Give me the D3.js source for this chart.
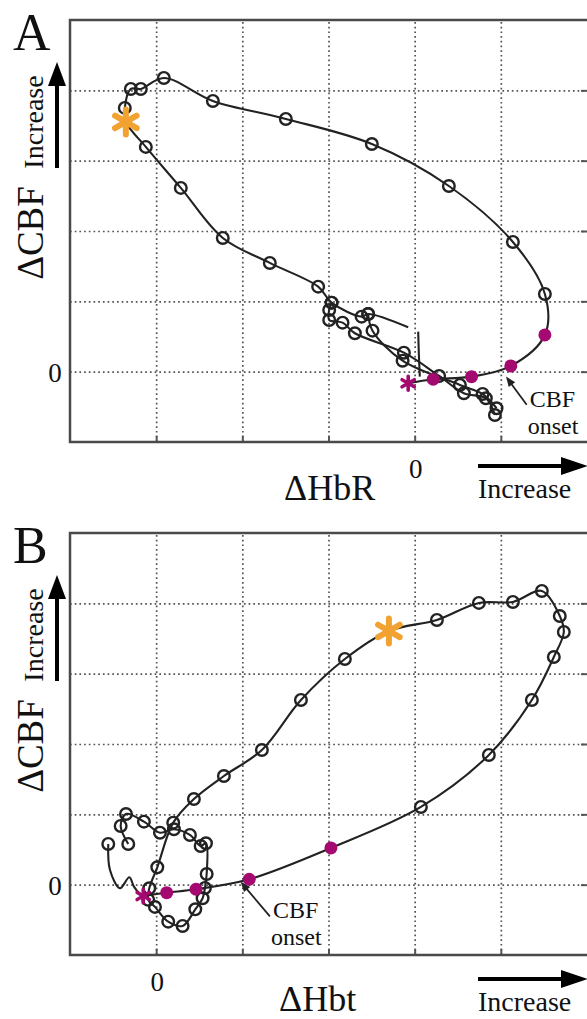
<!DOCTYPE html>
<meta charset="utf-8">
<script src="https://d3js.org/d3.v7.min.js"></script>
<style>
  body { margin: 0; background: #fff; }
  text { font-family: "Liberation Serif", "Times New Roman", serif; fill: #111; }
</style>
<div id="chart"></div>
<script>
// grid positions (data units)
const gridA_x = [-3, -2, -1, 0, 1];
const gridB_x = [0, 1, 2, 3, 4];
const grid_y = [0, 1, 2, 3, 4];

// panel A : dHbR (x) vs dCBF (y)
const aMainX = [-0.075, 0.215, 0.660, 1.116, 1.511, 1.511, 1.140, 0.397, -0.497, -1.495, -2.342, -2.911, -3.178, -3.294, -3.364, -3.352, -3.120, -2.714, -2.227, -1.681, -1.120, -0.964, -0.616, -0.540, -0.075];
const aMainY = [-0.165, -0.108, -0.071, 0.081, 0.522, 1.105, 1.844, 2.640, 3.237, 3.593, 3.849, 4.176, 4.020, 4.020, 3.750, 3.551, 3.196, 2.613, 1.901, 1.546, 1.209, 0.981, 0.782, 0.820, 0.631];
const aMainKind = ["stim", "onset", "onset", "onset", "onset", "o", "o", "o", "o", "o", "o", "o", "o", "o", "o", "peak", "o", "o", "o", "o", "o", "o", "o", "o", "none"];

const aTail1X = [-0.964, -0.992, -0.992, -0.837, -0.694, -0.125, 0.284, 0.571, 0.826, 0.931];
const aTail1Y = [0.981, 0.877, 0.735, 0.697, 0.546, 0.270, -0.061, -0.307, -0.378, -0.616];
const aTail2X = [-0.540, -0.489, -0.140, 0.525, 0.788, 0.950];
const aTail2Y = [0.820, 0.583, 0.156, -0.189, -0.317, -0.520];
const aStrayX = [0.041, 0.049, 0.060];
const aStrayY = [0.569, 0.237, -0.071];

// panel B : dHbt (x) vs dCBF (y)
const bPreX = [-0.556, -0.536, -0.420, -0.312, -0.258, -0.196, -0.150];
const bPreY = [0.579, 0.209, -0.051, 0.105, -0.028, -0.122, -0.161];
const bPreKind = ["o", "none", "none", "none", "none", "none", "none"];

const bMainX = [-0.150, 0.122, 0.462, 1.080, 2.028, 3.072, 3.861, 4.360, 4.615, 4.731, 4.684, 4.476, 4.140, 3.745, 3.258, 2.701, 2.190, 1.680, 1.227, 0.786, 0.438, 0.198, 0.013, -0.080, -0.092, -0.014, 0.140, 0.307, 0.454, 0.539, 0.566, 0.586, 0.578, 0.516, 0.392, 0.206, 0.044, -0.142, -0.350, -0.412, -0.324];
const bMainY = [-0.161, -0.114, -0.065, 0.077, 0.522, 1.105, 1.844, 2.626, 3.237, 3.593, 3.820, 4.176, 4.020, 4.006, 3.764, 3.607, 3.209, 2.626, 1.915, 1.545, 1.218, 0.882, 0.247, -0.051, -0.216, -0.316, -0.526, -0.587, -0.350, -0.193, -0.047, 0.152, 0.589, 0.550, 0.707, 0.788, 0.739, 0.896, 1.005, 0.835, 0.579];
const bMainKind = ["stim", "onset", "onset", "onset", "onset", "o", "o", "o", "o", "o", "o", "o", "o", "o", "o", "peak", "o", "o", "o", "o", "o", "o", "o", "o", "o", "o", "o", "o", "o", "o", "o", "o", "o", "o", "o", "o", "o", "o", "o", "o", "o"];

// CBF onset pointer (data units: head, tail)
const aOnsetArrow = [[1.06, -0.07], [1.30, -0.47]];
const bOnsetArrow = [[0.98, 0.04], [1.32, -0.45]];

const width = 587, height = 1019;
const magenta = "#a3096f", orange = "#f2a230", ink = "#222";

const svg = d3.select("#chart").append("svg")
    .attr("width", width)
    .attr("height", height);

svg.append("rect").attr("width", width).attr("height", height).attr("fill", "#fff");

function zip(xs, ys, ks) {
    return xs.map((d, i) => ({ x: d, y: ys[i], k: ks ? ks[i] : "o" }));
}

function drawPanel(p) {
    const x = d3.scaleLinear().domain(p.xDomain).range([70, 587]);
    const y = d3.scaleLinear().domain([-1, 5]).range([p.bottom, p.top]);
    const g = svg.append("g");
    const plotH = p.bottom - p.top;

    // dotted grid
    g.append("g")
        .attr("transform", `translate(0,${p.bottom})`)
        .call(d3.axisBottom(x).tickValues(p.gridX).tickSize(-plotH).tickFormat(""))
        .call(a => a.select(".domain").remove())
        .selectAll("line")
        .attr("stroke", "#555").attr("stroke-width", 1.7).attr("stroke-dasharray", "1.7,3");

    g.append("g")
        .attr("transform", `translate(70,0)`)
        .call(d3.axisLeft(y).tickValues(grid_y).tickSize(-(587 - 70)).tickFormat(""))
        .call(a => a.select(".domain").remove())
        .selectAll("line")
        .attr("stroke", "#555").attr("stroke-width", 1.7).attr("stroke-dasharray", "1.7,3");

    // small solid ticks
    g.append("g")
        .attr("transform", `translate(0,${p.bottom})`)
        .call(d3.axisBottom(x).tickValues(p.gridX).tickSize(-6).tickFormat(""))
        .call(a => a.select(".domain").remove())
        .selectAll("line").attr("stroke", "#555").attr("stroke-width", 2);

    g.append("g")
        .attr("transform", `translate(587,0)`)
        .call(d3.axisLeft(y).tickValues(grid_y).tickSize(6).tickFormat(""))
        .call(a => a.select(".domain").remove())
        .selectAll("line").attr("stroke", "#555").attr("stroke-width", 2);

    // frame (left, top, bottom)
    g.append("path")
        .attr("d", `M590,${p.top}H70V${p.bottom}H590`)
        .attr("fill", "none").attr("stroke", "#4a4a4a").attr("stroke-width", 2.5);

    const line = d3.line().x(d => x(d.x)).y(d => y(d.y)).curve(d3.curveCatmullRom.alpha(0.5));

    p.traces.forEach(t => {
        g.append("path")
            .datum(t)
            .attr("d", line)
            .attr("fill", "none")
            .attr("stroke", ink)
            .attr("stroke-width", 2.1);
    });

    const pts = p.traces.flat();

    g.selectAll(".circ")
        .data(pts.filter(d => d.k === "o"))
        .enter().append("circle")
        .attr("cx", d => x(d.x)).attr("cy", d => y(d.y))
        .attr("r", 5.8)
        .attr("fill", "none").attr("stroke", ink).attr("stroke-width", 2.4);

    g.selectAll(".onset")
        .data(pts.filter(d => d.k === "onset"))
        .enter().append("circle")
        .attr("cx", d => x(d.x)).attr("cy", d => y(d.y))
        .attr("r", 6.5)
        .attr("fill", magenta);

    g.selectAll(".stim")
        .data(pts.filter(d => d.k === "stim"))
        .enter().append("path")
        .attr("transform", d => `translate(${x(d.x)},${y(d.y)})`)
        .attr("d", d3.symbol().type(d3.symbolAsterisk).size(140))
        .attr("fill", "none").attr("stroke", magenta).attr("stroke-width", 3.6).attr("stroke-linecap", "round");

    g.selectAll(".peak")
        .data(pts.filter(d => d.k === "peak"))
        .enter().append("path")
        .attr("transform", d => `translate(${x(d.x)},${y(d.y)})`)
        .attr("d", d3.symbol().type(d3.symbolAsterisk).size(440))
        .attr("fill", "none").attr("stroke", orange).attr("stroke-width", 6).attr("stroke-linecap", "round");

    // CBF onset pointer
    const h = p.onsetArrow[0], tl = p.onsetArrow[1];
    const hx = x(h[0]), hy = y(h[1]), tx = x(tl[0]), ty = y(tl[1]);
    const ang = Math.atan2(hy - ty, hx - tx);
    g.append("line")
        .attr("x1", tx).attr("y1", ty).attr("x2", hx - 6 * Math.cos(ang)).attr("y2", hy - 6 * Math.sin(ang))
        .attr("stroke", ink).attr("stroke-width", 1.8);
    g.append("path")
        .attr("d", `M${hx},${hy}L${hx - 10 * Math.cos(ang) + 4 * Math.sin(ang)},${hy - 10 * Math.sin(ang) - 4 * Math.cos(ang)}L${hx - 10 * Math.cos(ang) - 4 * Math.sin(ang)},${hy - 10 * Math.sin(ang) + 4 * Math.cos(ang)}Z`)
        .attr("fill", ink);
    g.append("text").attr("x", tx + 3).attr("y", ty + 2).attr("font-size", 24).text("CBF");
    g.append("text").attr("x", tx + 1).attr("y", ty + 29).attr("font-size", 24).text("onset");

    // panel letter
    g.append("text").attr("x", 13).attr("y", p.top + 30).attr("font-size", 52).text(p.letter);

    // y label + arrow
    g.append("text")
        .attr("transform", `translate(43,${p.top + 213}) rotate(-90)`)
        .attr("text-anchor", "middle").attr("font-size", 37).text("\u0394CBF");
    g.append("text")
        .attr("transform", `translate(43,${p.top + 102}) rotate(-90)`)
        .attr("text-anchor", "middle").attr("font-size", 28).text("Increase");
    g.append("line")
        .attr("x1", 57).attr("x2", 57).attr("y1", p.top + 148).attr("y2", p.top + 62)
        .attr("stroke", "#000").attr("stroke-width", 4);
    g.append("path")
        .attr("d", `M57,${p.top + 42}L48,${p.top + 66}L66,${p.top + 66}Z`).attr("fill", "#000");

    // zero labels
    g.append("text").attr("x", 55).attr("y", y(0) + 10).attr("text-anchor", "middle").attr("font-size", 27).text("0");
    g.append("text").attr("x", x(0) + 1).attr("y", p.bottom + 36).attr("text-anchor", "middle").attr("font-size", 27).text("0");

    // x label + arrow
    g.append("text").attr("x", p.xLabelX).attr("y", p.xLabelY).attr("font-size", 36).text(p.xLabel);
    g.append("line")
        .attr("x1", 478).attr("x2", 565).attr("y1", p.bottom + 24).attr("y2", p.bottom + 24)
        .attr("stroke", "#000").attr("stroke-width", 4);
    g.append("path")
        .attr("d", `M588,${p.bottom + 24}L561,${p.bottom + 15}L561,${p.bottom + 33}Z`).attr("fill", "#000");
    g.append("text").attr("x", 478).attr("y", p.bottom + 56).attr("font-size", 28).text("Increase");
}

drawPanel({
    letter: "A", top: 20, bottom: 442, xDomain: [-4, 2], gridX: gridA_x,
    xLabel: "\u0394HbR", xLabelX: 284, xLabelY: 500,
    onsetArrow: aOnsetArrow,
    traces: [
        zip(aMainX, aMainY, aMainKind),
        zip(aTail1X, aTail1Y),
        zip(aTail2X, aTail2Y),
        zip(aStrayX, aStrayY, aStrayX.map(() => "none"))
    ]
});

drawPanel({
    letter: "B", top: 533, bottom: 955, xDomain: [-1, 5], gridX: gridB_x,
    xLabel: "\u0394Hbt", xLabelX: 279, xLabelY: 1011,
    onsetArrow: bOnsetArrow,
    traces: [
        zip(bPreX, bPreY, bPreKind),
        zip(bMainX, bMainY, bMainKind)
    ]
});
</script>
